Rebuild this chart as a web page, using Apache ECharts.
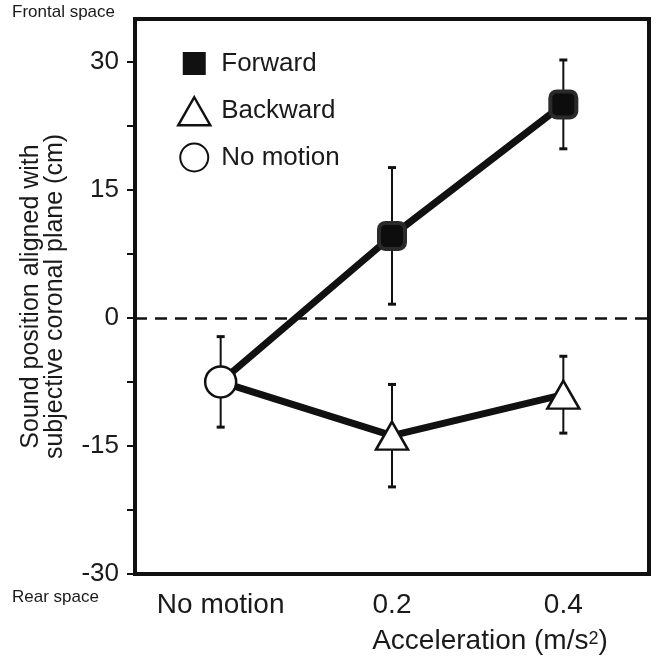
<!DOCTYPE html>
<html>
<head>
<meta charset="utf-8">
<script src="https://cdn.jsdelivr.net/npm/echarts@6/dist/echarts.min.js"></script>
<style>
  html, body { margin: 0; padding: 0; background: #fff; }
  #main { width: 658px; height: 666px; }
</style>
</head>
<body>
<div id="main"></div>
<script>
// 数据
var categories = ['No motion', '0.2', '0.4'];
var forwardMean = [-7.5, 9.6, 25.0];
var forwardErr = [5.3, 8.0, 5.2];
var backwardMean = [-7.5, -13.8, -9.0];
var backwardErr = [5.3, 6.0, 4.5];
var yLabels = [-30, -15, 0, 15, 30];
var yTicks = [-30, -22.5, -15, -7.5, 0, 7.5, 15, 22.5, 30];

var FONT = 'Liberation Sans, Arial, Helvetica, sans-serif';
var TXT = '#1a1a1a';

// 误差线数据 [x, low, high]
var errData = [];
for (var i = 0; i < categories.length; i++) {
    errData.push([i, forwardMean[i] - forwardErr[i], forwardMean[i] + forwardErr[i]]);
    if (i > 0) {
        errData.push([i, backwardMean[i] - backwardErr[i], backwardMean[i] + backwardErr[i]]);
    }
}

var renderErr = function (params, api) {
    var x = api.value(0);
    var lo = api.coord([x, api.value(1)]);
    var hi = api.coord([x, api.value(2)]);
    var cap = 4;
    return {
        type: 'group',
        children: [
            { type: 'line', shape: { x1: lo[0], y1: lo[1], x2: hi[0], y2: hi[1] }, style: { stroke: '#111', lineWidth: 2 } },
            { type: 'line', shape: { x1: lo[0] - cap, y1: lo[1], x2: lo[0] + cap, y2: lo[1] }, style: { stroke: '#111', lineWidth: 3 } },
            { type: 'line', shape: { x1: hi[0] - cap, y1: hi[1], x2: hi[0] + cap, y2: hi[1] }, style: { stroke: '#111', lineWidth: 3 } }
        ]
    };
};

var chart = echarts.init(document.getElementById('main'));
var option = {
    backgroundColor: '#fff',
    animation: false,
    textStyle: { fontFamily: FONT, color: TXT },
    grid: {
        left: 135, right: 9, top: 19, bottom: 92,
        show: true, borderColor: '#111', borderWidth: 4, backgroundColor: 'transparent'
    },
    legend: {
        orient: 'vertical',
        left: 172, top: 42,
        itemWidth: 32, itemHeight: 28,
        itemGap: 16,
        textStyle: { fontSize: 26, lineHeight: 28, color: TXT, fontFamily: FONT, padding: [0, 0, 0, 6] },
        data: [
            { name: 'Forward', icon: 'path://M0,0h10v10h-10z', itemStyle: { color: '#111', borderColor: '#fff', borderWidth: 5 } },
            { name: 'Backward', icon: 'triangle', itemStyle: { color: '#fff', borderColor: '#111', borderWidth: 2.5 } },
            { name: 'No motion', icon: 'circle', itemStyle: { color: '#fff', borderColor: '#111', borderWidth: 2 } }
        ]
    },
    graphic: [
        { type: 'text', left: 12, top: 4, style: { text: 'Frontal space', fontSize: 17, fontFamily: FONT, fill: TXT } },
        { type: 'text', left: 12, top: 589, style: { text: 'Rear space', fontSize: 17, fontFamily: FONT, fill: TXT } }
    ],
    xAxis: {
        type: 'category',
        data: categories,
        axisLine: { onZero: false, lineStyle: { color: '#111', width: 4 } },
        axisTick: { show: false },
        axisLabel: { fontSize: 28, color: TXT, margin: 17 },
        name: 'Acceleration (m/s{sup|2})',
        nameLocation: 'middle',
        nameGap: 53,
        nameTextStyle: {
            fontSize: 28, color: TXT, padding: [0, 0, 0, 196],
            rich: { sup: { fontSize: 18, padding: [0, 0, 4, 0] } }
        }
    },
    yAxis: {
        type: 'value',
        min: -30, max: 35, interval: 15,
        axisLine: { show: true, onZero: false, lineStyle: { color: '#111', width: 4 } },
        axisTick: { show: true, length: 8, lineStyle: { color: '#111', width: 2 }, customValues: yTicks },
        axisLabel: { fontSize: 26, color: TXT, margin: 16, customValues: yLabels },
        splitLine: { show: false },
        name: 'Sound position aligned with\nsubjective coronal plane (cm)',
        nameLocation: 'middle',
        nameGap: 68,
        nameTextStyle: { fontSize: 25, color: TXT, lineHeight: 24 }
    },
    series: [
        {
            name: 'forward-line', type: 'line', data: forwardMean, symbol: 'none', z: 2,
            lineStyle: { color: '#111', width: 7 },
            markLine: {
                silent: true, symbol: 'none', label: { show: false },
                lineStyle: { color: '#111', width: 2.5, type: [12, 8] },
                data: [{ yAxis: 0 }]
            }
        },
        {
            name: 'backward-line', type: 'line', data: backwardMean, symbol: 'none', z: 2,
            lineStyle: { color: '#111', width: 7 }
        },
        {
            name: 'err', type: 'custom', renderItem: renderErr, data: errData, z: 3
        },
        {
            name: 'Forward', type: 'scatter', z: 5,
            data: [[1, forwardMean[1]], [2, forwardMean[2]]],
            symbol: 'roundRect', symbolSize: 26,
            itemStyle: { color: '#0d0d0d', borderColor: '#2a2a2a', borderWidth: 4, opacity: 1 }
        },
        {
            name: 'Backward', type: 'scatter', z: 5,
            data: [[1, backwardMean[1]], [2, backwardMean[2]]],
            symbol: 'triangle', symbolSize: [32, 28],
            itemStyle: { color: '#fff', borderColor: '#111', borderWidth: 2.5, opacity: 1 }
        },
        {
            name: 'No motion', type: 'scatter', z: 5,
            data: [[0, forwardMean[0]]],
            symbol: 'circle', symbolSize: 31,
            itemStyle: { color: '#fff', borderColor: '#111', borderWidth: 2.5, opacity: 1 }
        }
    ]
};
chart.setOption(option);
</script>
</body>
</html>
